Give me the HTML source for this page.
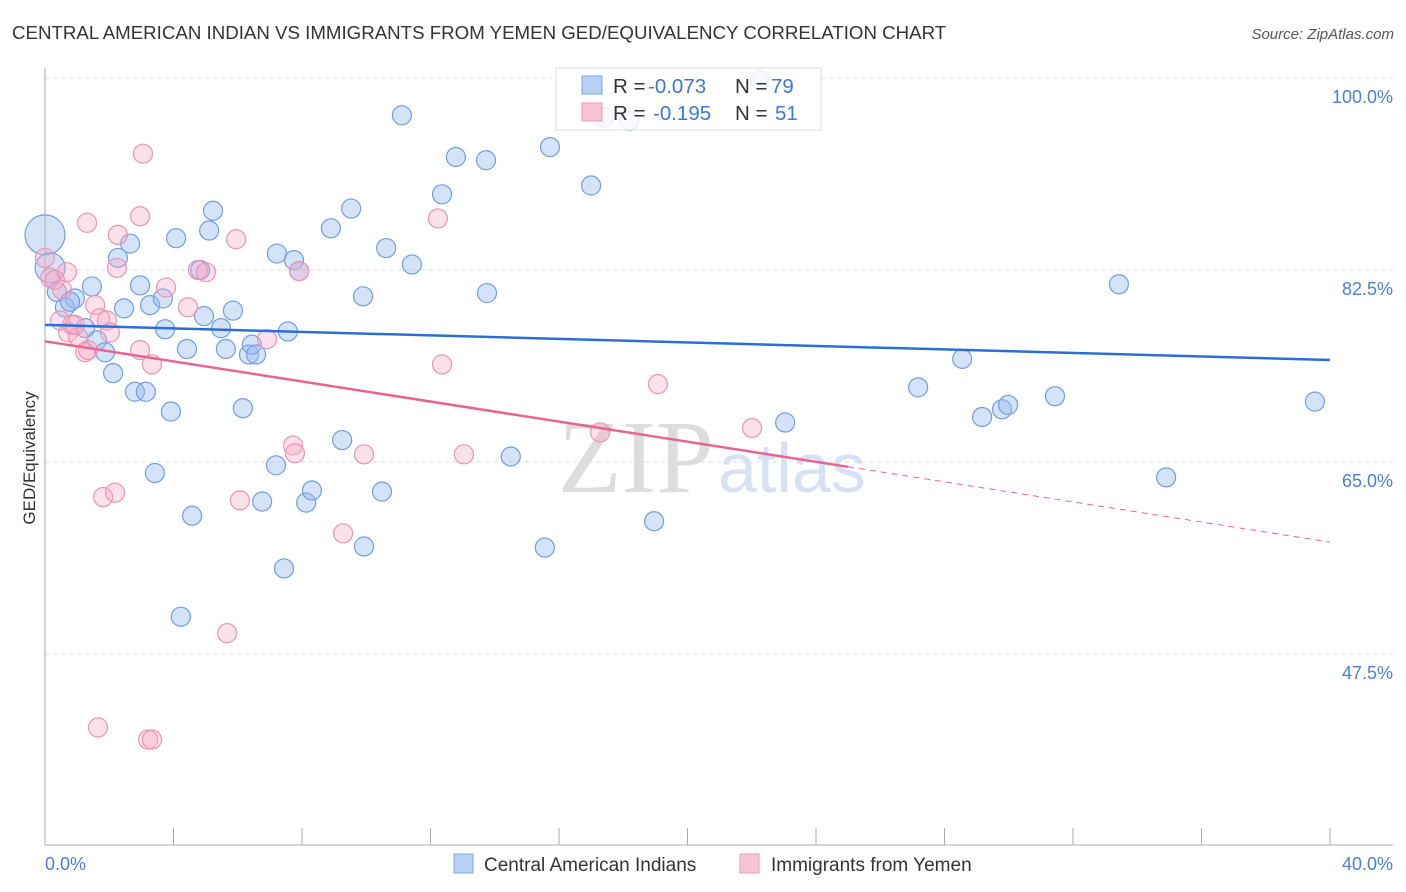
<!DOCTYPE html>
<html><head><meta charset="utf-8"><style>
body{margin:0;background:#fff;font-family:"Liberation Sans",sans-serif;}
svg{display:block}
</style></head><body>
<svg id="c" width="1406" height="892" xmlns="http://www.w3.org/2000/svg">
<text x="12" y="39" font-size="18.7" fill="#333">CENTRAL AMERICAN INDIAN VS IMMIGRANTS FROM YEMEN GED/EQUIVALENCY CORRELATION CHART</text>
<text x="1394" y="39" font-size="15" fill="#555" text-anchor="end" font-style="italic">Source: ZipAtlas.com</text>
<text x="714" y="492" font-size="104" fill="#ddd" text-anchor="end" font-family="Liberation Serif">ZIP</text>
<text x="718" y="492" font-size="70" fill="#d6e2f4">atlas</text>
<g id="grid"></g>
<g id="axes"></g>
<g id="pts"></g>
<g id="trend"></g>
<g>
<rect x="556" y="68" width="265" height="62" fill="#fff" fill-opacity="0.82" stroke="#ddd"/>
<rect x="582" y="76" width="20" height="18" fill="#b8d0f4" stroke="#7aa5e8"/>
<rect x="582" y="103" width="20" height="18" fill="#f8c4d4" stroke="#ee9ab6"/>
<text x="613" y="93" font-size="20.5" fill="#333">R =</text>
<text x="648" y="93" font-size="20.5" fill="#3b78d8">-0.073</text>
<text x="735" y="93" font-size="20.5" fill="#333">N =</text>
<text x="771" y="93" font-size="20.5" fill="#3b78d8">79</text>
<text x="613" y="120" font-size="20.5" fill="#333">R =</text>
<text x="653" y="120" font-size="20.5" fill="#3b78d8">-0.195</text>
<text x="735" y="120" font-size="20.5" fill="#333">N =</text>
<text x="775" y="120" font-size="20.5" fill="#3b78d8">51</text>
</g>
<text transform="translate(35,458) rotate(-90)" font-size="17" fill="#333" text-anchor="middle">GED/Equivalency</text>
<text x="45" y="870" font-size="18" fill="#4a7fd6">0.0%</text>
<text x="1393" y="870" font-size="18" fill="#4a7fd6" text-anchor="end">40.0%</text>
<g>
<rect x="454" y="854" width="19" height="19" fill="#b8d0f4" stroke="#7aa5e8"/>
<text x="484" y="871" font-size="19" fill="#333">Central American Indians</text>
<rect x="740" y="854" width="19" height="19" fill="#f8c4d4" stroke="#ee9ab6"/>
<text x="771" y="871" font-size="19" fill="#333">Immigrants from Yemen</text>
</g>
</svg>
<script>
const yTicks=[100,82.5,65,47.5];
const yTickLabels=["100.0%","82.5%","65.0%","47.5%"];
const xTicks=[0,4,8,12,16,20,24,28,32,36,40];
const blueX=[0,0.16,0.37,0.62,0.93,0.78,1.25,1.46,1.62,1.87,2.12,2.27,2.46,2.65,2.8,2.96,3.14,3.27,3.67,3.74,3.92,4.08,3.42,4.23,4.42,4.58,4.83,4.95,5.11,5.23,5.48,5.63,5.85,6.16,6.35,6.44,6.57,6.76,7.22,7.19,7.44,7.56,7.75,7.91,8.13,8.31,8.9,9.25,9.53,9.9,9.93,10.49,10.62,11.11,11.42,12.36,12.79,13.73,13.76,14.5,15.56,15.72,17.0,17.4,18.18,18.96,22.26,23.04,27.18,28.55,29.17,29.79,29.98,31.44,33.43,34.9,39.53];
const blueY=[85.7,82.7,80.5,79.1,79.9,79.6,77.2,81.0,76.1,75.0,73.1,83.6,79.0,84.9,71.4,81.1,71.4,79.3,79.9,77.1,69.6,85.4,64.0,50.9,75.3,60.1,82.5,78.3,86.1,87.9,77.2,75.3,78.8,69.9,74.8,75.7,74.8,61.4,84.0,64.7,55.3,76.9,83.4,82.4,61.3,62.4,86.3,67.0,88.1,80.1,57.3,62.3,84.5,96.6,83.0,89.4,92.8,92.5,80.4,65.5,57.2,93.7,90.2,96.4,96.1,59.6,99.8,68.6,71.8,74.4,69.1,69.8,70.2,71.0,81.2,63.6,70.5];
const blueR=[20,15];
const pinkX=[0,0.16,0.31,0.47,0.68,0.72,0.84,1.03,1.25,1.34,1.56,1.71,1.81,1.93,2.02,2.18,2.24,2.27,1.31,1.65,2.96,2.96,3.05,3.21,3.33,3.33,3.77,4.45,4.76,5.01,5.67,5.95,6.07,6.91,7.72,7.78,7.91,9.28,9.93,12.23,12.36,13.04,17.28,19.08,22.01,0.53,0.93];
const pinkY=[83.6,81.8,81.6,77.9,82.3,76.8,77.5,76.4,75.0,75.2,79.3,78.1,61.8,77.9,76.8,62.2,82.7,85.7,86.8,40.8,87.4,75.2,93.1,39.7,39.7,73.9,80.9,79.1,82.5,82.3,49.4,85.3,61.5,76.2,66.5,65.8,82.4,58.5,65.7,87.2,73.9,65.7,67.7,72.1,68.1,80.7,77.5];
const blueTrend=[77.5,74.3];
const pinkTrend=[76.0,57.7];
const pinkSolidEnd=25;
const NS="http://www.w3.org/2000/svg";
const X=v=>45+v/40*1285;
const Y=v=>78+(100-v)/17.5*192;
function mk(t,a,p){const e=document.createElementNS(NS,t);for(const k in a)e.setAttribute(k,a[k]);p.appendChild(e);return e;}
const grid=document.getElementById('grid'),axes=document.getElementById('axes'),pts=document.getElementById('pts'),tr=document.getElementById('trend');
yTicks.forEach((t,i)=>{
 const l=mk('line',{x1:45,x2:1393,y1:Y(t),y2:Y(t),stroke:'#ddd','stroke-dasharray':'4,4'},grid);
 
 
 const tx=mk('text',{x:1393,y:Y(t)+25,'font-size':18,fill:'#4a7fd6','text-anchor':'end'},grid);
 tx.textContent=yTickLabels[i];
 
 
});
const ya=mk('line',{x1:45,x2:45,y1:68,y2:845,stroke:'#aaa'},axes);


const xa=mk('line',{x1:45,x2:1393,y1:845,y2:845,stroke:'#aaa'},axes);


xTicks.forEach(t=>{
 const l=mk('line',{x1:X(t),x2:X(t),y1:828,y2:845,stroke:'#aaa'},axes);
 
 
});
blueX.forEach((x,i)=>{
 const c=mk('circle',{cx:X(x),cy:Y(blueY[i]),r:blueR[i]||9.5,fill:'rgba(150,185,240,0.4)',stroke:'#6f9ee3','stroke-width':1.2},pts);
 
 
});
pinkX.forEach((x,i)=>{
 const c=mk('circle',{cx:X(x),cy:Y(pinkY[i]),r:9.5,fill:'rgba(245,165,195,0.35)',stroke:'#ec94b2','stroke-width':1.2},pts);
 
 
});
const bl=mk('line',{x1:X(0),y1:Y(blueTrend[0]),x2:X(40),y2:Y(blueTrend[1]),stroke:'#2b6fd6','stroke-width':2.5},tr);


const pv=x=>pinkTrend[0]+(pinkTrend[1]-pinkTrend[0])*x/40;
const pl=mk('line',{x1:X(0),y1:Y(pv(0)),x2:X(pinkSolidEnd),y2:Y(pv(pinkSolidEnd)),stroke:'#e8648f','stroke-width':2.5},tr);


const pd=mk('line',{x1:X(pinkSolidEnd),y1:Y(pv(pinkSolidEnd)),x2:X(40),y2:Y(pv(40)),stroke:'#e8648f','stroke-width':1,'stroke-dasharray':'6,5'},tr);


</script>
</body></html>
